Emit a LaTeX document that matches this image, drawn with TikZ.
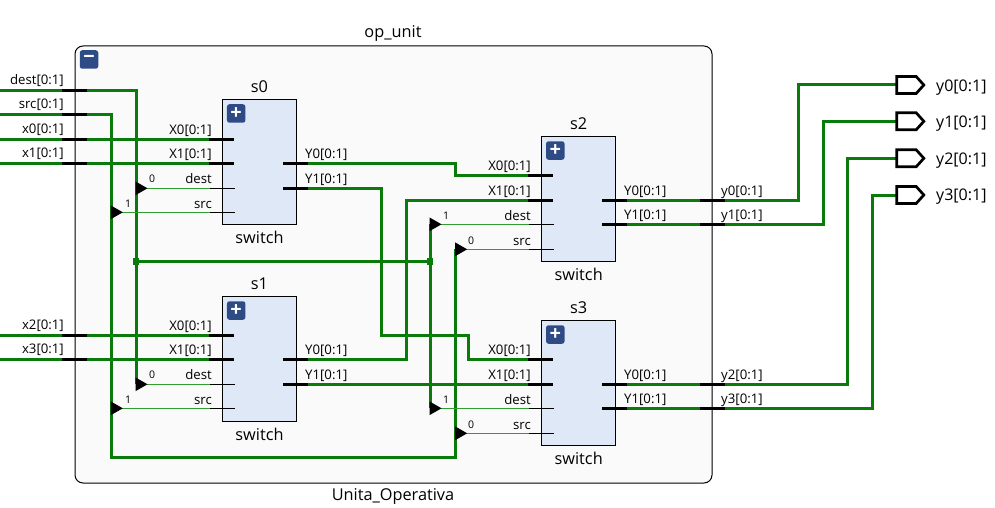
\documentclass[tikz,border=0pt]{standalone}
\usepackage{fontspec}
\setmainfont{Open Sans}
\usetikzlibrary{shapes,backgrounds}
\definecolor{wire}{HTML}{0A7A0A}
\definecolor{bit}{HTML}{2F9E2F}
\definecolor{blockfill}{HTML}{DEE8F7}
\definecolor{toggle}{HTML}{2F4B85}
\definecolor{frame}{HTML}{FAFAFA}

\begin{document}
\begin{tikzpicture}[x=1pt,y=-1pt]
	\tikzstyle{Frame}	= [draw, line width=1pt, fill=frame, rounded corners=8pt, minimum width=637pt, minimum height=437pt, inner sep=0pt]
	\tikzstyle{Block}	= [draw, line width=1pt, fill=blockfill, minimum width=73.5pt, minimum height=125pt, inner sep=0pt]
	\tikzstyle{Toggle}	= [fill=toggle, text=white, rounded corners=2.5pt, minimum size=18.5pt, inner sep=0pt, font=\fontsize{20}{20}\selectfont\bfseries]
	\tikzstyle{BusPin}	= [fill=black, minimum width=25pt, minimum height=3pt, inner sep=0pt, outer sep=0pt]
	\tikzstyle{BitPin}	= [fill=black, minimum width=25pt, minimum height=1pt, inner sep=0pt, outer sep=0pt]
	\tikzstyle{Tip}		= [isosceles triangle, draw, fill=black, line width=1pt, minimum height=10.5pt, minimum width=12pt, isosceles triangle stretches, inner sep=0pt, outer sep=0pt, anchor=lower side]
	\tikzstyle{OutPort}	= [signal, signal to=east, signal pointer angle=96, draw, line width=2.7pt, fill=white, minimum width=27pt, minimum height=17pt, inner sep=0pt, outer sep=0pt]
	\tikzstyle{Joint}	= [fill=wire, minimum size=6.5pt, inner sep=0pt]
	\tikzstyle{Bus}		= [line width=3pt, wire]
	\tikzstyle{Net}		= [line width=1pt, bit]
	\tikzstyle{Txt}		= [inner sep=0pt, yshift=-0.8pt, font=\fontsize{13.2}{15}\selectfont]
	\tikzstyle{Name}	= [inner sep=0pt, yshift=-0.8pt, font=\fontsize{16.3}{18}\selectfont, anchor=base]
	\tikzstyle{LL}		= [Txt, anchor=base west]
	\tikzstyle{RL}		= [Txt, anchor=base east]
	\tikzstyle{Big}		= [LL, font=\fontsize{16}{18}\selectfont]
	\tikzstyle{Num}		= [inner sep=0pt, font=\fontsize{10.5}{12}\selectfont]

	\useasboundingbox (0,0) rectangle (995,508);

	\begin{scope}[on background layer]
		\node (frame) at (393.5,264.5) [Frame] {};
	\end{scope}

	% blocks
	\node (s0) at (259.5,162) [Block] {};
	\node (s1) at (259.5,358.7) [Block] {};
	\node (s2) at (578.7,199) [Block] {};
	\node (s3) at (578.7,382.8) [Block] {};

	\node (minus) at (89,59.5) [Toggle] {−};
	\node (plus0) at (236.2,113.5) [Toggle] {+};
	\node (plus1) at (236.2,310.5) [Toggle] {+};
	\node (plus2) at (555.3,150.5) [Toggle] {+};
	\node (plus3) at (555.3,334.5) [Toggle] {+};

	% top level pins
	\node (idest) at (74.5,90.3) [BusPin] {};
	\node (isrc) at (74.5,114.5) [BusPin] {};
	\node (ix0) at (74.5,139.3) [BusPin] {};
	\node (ix1) at (74.5,163.3) [BusPin] {};
	\node (ix2) at (74.5,335.3) [BusPin] {};
	\node (ix3) at (74.5,359.3) [BusPin] {};
	\node (oy0) at (712.5,200.3) [BusPin] {};
	\node (oy1) at (712.5,224.3) [BusPin] {};
	\node (oy2) at (712.5,384.3) [BusPin] {};
	\node (oy3) at (712.5,408.3) [BusPin] {};

	% block pins
	\node (s0x0) at (221.5,139.3) [BusPin] {};
	\node (s0x1) at (221.5,163.3) [BusPin] {};
	\node (s0d) at (222,188.3) [BitPin] {};
	\node (s0s) at (222,212.3) [BitPin] {};
	\node (s0y0) at (295,163.3) [BusPin] {};
	\node (s0y1) at (295,188.3) [BusPin] {};
	\node (s1x0) at (221.5,335.3) [BusPin] {};
	\node (s1x1) at (221.5,359.3) [BusPin] {};
	\node (s1d) at (222,384.3) [BitPin] {};
	\node (s1s) at (222,408.3) [BitPin] {};
	\node (s1y0) at (295,359.3) [BusPin] {};
	\node (s1y1) at (295,384.3) [BusPin] {};
	\node (s2x0) at (540.5,175.3) [BusPin] {};
	\node (s2x1) at (540.5,200.3) [BusPin] {};
	\node (s2d) at (541,224.3) [BitPin] {};
	\node (s2s) at (541,249.3) [BitPin] {};
	\node (s2y0) at (614,200.3) [BusPin] {};
	\node (s2y1) at (614,224.3) [BusPin] {};
	\node (s3x0) at (540.5,359.3) [BusPin] {};
	\node (s3x1) at (540.5,384.3) [BusPin] {};
	\node (s3d) at (541,408.3) [BitPin] {};
	\node (s3s) at (541,433.3) [BitPin] {};
	\node (s3y0) at (614,384.3) [BusPin] {};
	\node (s3y1) at (614,408.3) [BusPin] {};

	% tips on the control lines
	\node (t0d) at (136,188.3) [Tip] {};
	\node (t0s) at (111.3,212.3) [Tip] {};
	\node (t1d) at (136,384.3) [Tip] {};
	\node (t1s) at (111.3,408.3) [Tip] {};
	\node (t2d) at (430,224.3) [Tip] {};
	\node (t2s) at (455.7,249.3) [Tip] {};
	\node (t3d) at (430,408.3) [Tip] {};
	\node (t3s) at (455.7,433.3) [Tip] {};

	\node (j0) at (136,261.5) [Joint] {};
	\node (j1) at (430,261.5) [Joint] {};

	% output ports
	\node (py0) at (906.5,85) [OutPort] {};
	\node (py1) at (906.5,121.3) [OutPort] {};
	\node (py2) at (906.5,158.3) [OutPort] {};
	\node (py3) at (906.5,195) [OutPort] {};

	% free ends and bends
	\coordinate (edest) at (0,90.3);
	\coordinate (esrc) at (0,114.5);
	\coordinate (ex0) at (0,139.3);
	\coordinate (ex1) at (0,163.3);
	\coordinate (ex2) at (0,335.3);
	\coordinate (ex3) at (0,359.3);
	\coordinate (bdest) at (136,90.3);
	\coordinate (bsrc0) at (111.3,114.5);
	\coordinate (bsrc1) at (111.3,457.3);
	\coordinate (bsrc2) at (455.7,457.3);
	\coordinate (a0) at (455.7,163.3);
	\coordinate (a1) at (455.7,175.3);
	\coordinate (c0) at (381.5,188.3);
	\coordinate (c1) at (381.5,335);
	\coordinate (c2) at (468,335);
	\coordinate (c3) at (468,359.3);
	\coordinate (d0) at (406,359.3);
	\coordinate (d1) at (406,200.3);
	\coordinate (f0) at (798.3,200.3);
	\coordinate (f1) at (798.3,85);
	\coordinate (g0) at (823.3,224.3);
	\coordinate (g1) at (823.3,121.3);
	\coordinate (h0) at (847.3,384.3);
	\coordinate (h1) at (847.3,158.3);
	\coordinate (k0) at (872.3,408.3);
	\coordinate (k1) at (872.3,195);

	\begin{scope}[on background layer]
		\draw (edest) -- (idest.west) [Bus];
		\draw (esrc) -- (isrc.west) [Bus];
		\draw (ex0) -- (ix0.west) [Bus];
		\draw (ex1) -- (ix1.west) [Bus];
		\draw (ex2) -- (ix2.west) [Bus];
		\draw (ex3) -- (ix3.west) [Bus];

		\draw (ix0.east) -- (s0x0.west) [Bus];
		\draw (ix1.east) -- (s0x1.west) [Bus];
		\draw (ix2.east) -- (s1x0.west) [Bus];
		\draw (ix3.east) -- (s1x1.west) [Bus];

		\draw (idest.east) -- (bdest) -- (t1d.lower side) [Bus];
		\draw (isrc.east) -- (bsrc0) -- (bsrc1) -- (bsrc2) -- (t2s.lower side) [Bus];
		\draw (j0) -- (j1) [Bus];
		\draw (t2d.lower side) -- (t3d.lower side) [Bus];

		\draw (s0y0.east) -- (a0) -- (a1) -- (s2x0.west) [Bus];
		\draw (s0y1.east) -- (c0) -- (c1) -- (c2) -- (c3) -- (s3x0.west) [Bus];
		\draw (s1y0.east) -- (d0) -- (d1) -- (s2x1.west) [Bus];
		\draw (s1y1.east) -- (s3x1.west) [Bus];

		\draw (s2y0.east) -- (oy0.west) [Bus];
		\draw (s2y1.east) -- (oy1.west) [Bus];
		\draw (s3y0.east) -- (oy2.west) [Bus];
		\draw (s3y1.east) -- (oy3.west) [Bus];

		\draw (oy0.east) -- (f0) -- (f1) -- (py0.west) [Bus];
		\draw (oy1.east) -- (g0) -- (g1) -- (py1.west) [Bus];
		\draw (oy2.east) -- (h0) -- (h1) -- (py2.west) [Bus];
		\draw (oy3.east) -- (k0) -- (k1) -- (py3.west) [Bus];

		\draw (t0d.apex) -- (s0d.west) [Net];
		\draw (t0s.apex) -- (s0s.west) [Net];
		\draw (t1d.apex) -- (s1d.west) [Net];
		\draw (t1s.apex) -- (s1s.west) [Net];
		\draw (t2d.apex) -- (s2d.west) [Net];
		\draw (t2s.apex) -- (s2s.west) [Net];
		\draw (t3d.apex) -- (s3d.west) [Net];
		\draw (t3s.apex) -- (s3s.west) [Net];
	\end{scope}

	% names
	\node (top) at (393,37) [Name] {op\_unit};
	\node (bottom) at (393,500) [Name] {Unita\_Operativa};
	\node (n0) at (259.5,92) [Name] {s0};
	\node (n1) at (259.5,289) [Name] {s1};
	\node (n2) at (578.7,129) [Name] {s2};
	\node (n3) at (578.7,313) [Name] {s3};
	\node (w0) at (259.5,242.5) [Name] {switch};
	\node (w1) at (259.5,439.5) [Name] {switch};
	\node (w2) at (578.7,279.5) [Name] {switch};
	\node (w3) at (578.7,463.5) [Name] {switch};

	% top level labels
	\node (ldest) at (64,83.3) [RL] {dest[0:1]};
	\node (lsrc) at (64,107.8) [RL] {src[0:1]};
	\node (lx0) at (64,132.3) [RL] {x0[0:1]};
	\node (lx1) at (64,156.8) [RL] {x1[0:1]};
	\node (lx2) at (64,328.8) [RL] {x2[0:1]};
	\node (lx3) at (64,352.8) [RL] {x3[0:1]};
	\node (ly0) at (721,194.5) [LL] {y0[0:1]};
	\node (ly1) at (721,218.5) [LL] {y1[0:1]};
	\node (ly2) at (721,378.5) [LL] {y2[0:1]};
	\node (ly3) at (721,402.5) [LL] {y3[0:1]};

	% block labels
	\node (a00) at (212,133.3) [RL] {X0[0:1]};
	\node (a01) at (212,157.8) [RL] {X1[0:1]};
	\node (a02) at (212,182.3) [RL] {dest};
	\node (a03) at (212,207.3) [RL] {src};
	\node (a04) at (305,157.8) [LL] {Y0[0:1]};
	\node (a05) at (305,182.3) [LL] {Y1[0:1]};
	\node (a10) at (212,329.3) [RL] {X0[0:1]};
	\node (a11) at (212,353.8) [RL] {X1[0:1]};
	\node (a12) at (212,378.8) [RL] {dest};
	\node (a13) at (212,403.8) [RL] {src};
	\node (a14) at (305,353.8) [LL] {Y0[0:1]};
	\node (a15) at (305,378.8) [LL] {Y1[0:1]};
	\node (a20) at (531,169.8) [RL] {X0[0:1]};
	\node (a21) at (531,194.8) [RL] {X1[0:1]};
	\node (a22) at (531,219.3) [RL] {dest};
	\node (a23) at (531,244.3) [RL] {src};
	\node (a24) at (624,194.8) [LL] {Y0[0:1]};
	\node (a25) at (624,218.8) [LL] {Y1[0:1]};
	\node (a30) at (531,353.8) [RL] {X0[0:1]};
	\node (a31) at (531,378.8) [RL] {X1[0:1]};
	\node (a32) at (531,403.3) [RL] {dest};
	\node (a33) at (531,428.3) [RL] {src};
	\node (a34) at (624,378.8) [LL] {Y0[0:1]};
	\node (a35) at (624,402.8) [LL] {Y1[0:1]};

	% tip numbers
	\node (u0) at (152,178.5) [Num] {0};
	\node (u1) at (128,204) [Num] {1};
	\node (u2) at (152,375) [Num] {0};
	\node (u3) at (128,400) [Num] {1};
	\node (u4) at (446,216) [Num] {1};
	\node (u5) at (471,241) [Num] {0};
	\node (u6) at (446,400) [Num] {1};
	\node (u7) at (471,425) [Num] {0};

	% output labels
	\node (ry0) at (936,90.5) [Big] {y0[0:1]};
	\node (ry1) at (936,126.5) [Big] {y1[0:1]};
	\node (ry2) at (936,163.5) [Big] {y2[0:1]};
	\node (ry3) at (936,200) [Big] {y3[0:1]};
\end{tikzpicture}
\end{document}
